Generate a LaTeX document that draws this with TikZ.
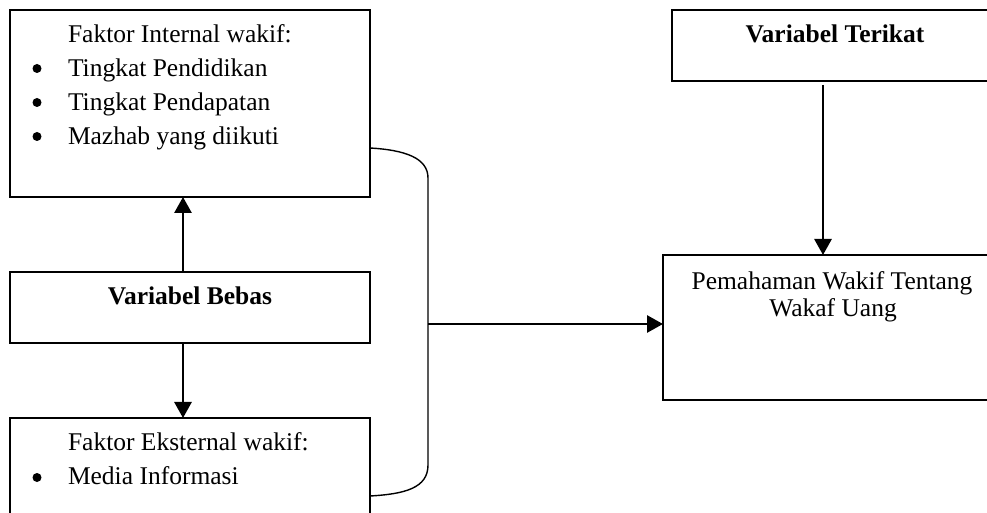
\documentclass[tikz,border=0pt]{standalone}
\usepackage{fontspec}
\setmainfont{Liberation Serif}
\usetikzlibrary{arrows.meta}
\begin{document}
\begin{tikzpicture}[x=1bp,y=-1bp,
  box/.style={draw=black,line width=1.8bp,inner sep=0pt,outer sep=0pt},
  txt/.style={inner sep=0pt,outer sep=0pt,font=\fontsize{25.5bp}{30bp}\selectfont},
  btxt/.style={inner sep=0pt,outer sep=0pt,font=\fontsize{25.5bp}{30bp}\selectfont\bfseries},
  dot/.style={circle,fill=black,inner sep=0pt,minimum size=9bp},
  arr/.style={line width=2.8bp,-{Triangle[length=16bp,width=17bp]}},
  bracest/.style={line width=1.4bp}]
\useasboundingbox (0,0) rectangle (987,513);
\fill[white] (0,0) rectangle (987,513);
\clip (0,0) rectangle (987,513);

% boxes
\node[box,minimum width=360bp,minimum height=187bp] (internal) at (190,103.5) {};
\node[box,minimum width=360bp,minimum height=71bp] (bebas) at (190,307.5) {};
\node[box,minimum width=360bp,minimum height=142bp] (eksternal) at (190,489) {};
\node[box,minimum width=328bp,minimum height=71bp] (terikat) at (836,45.5) {};
\node[box,minimum width=342bp,minimum height=145bp] (pemahaman) at (834,327.5) {};

% texts
\node[txt,anchor=base west] (tInt) at (68,43) {Faktor Internal wakif:};
\node[dot] (b1) at (37,68.5) {};
\node[txt,anchor=base west] (i1) at (68,77) {Tingkat Pendidikan};
\node[dot] (b2) at (37,102.5) {};
\node[txt,anchor=base west] (i2) at (68,111) {Tingkat Pendapatan};
\node[dot] (b3) at (37,136.5) {};
\node[txt,anchor=base west] (i3) at (68,145) {Mazhab yang diikuti};

\node[btxt,anchor=base] (tBebas) at (190,305) {Variabel Bebas};

\node[txt,anchor=base west] (tEks) at (68,450) {Faktor Eksternal wakif:};
\node[dot] (b4) at (37,477.5) {};
\node[txt,anchor=base west] (i4) at (68,484) {Media Informasi};

\node[btxt,anchor=base] (tTerikat) at (835,43) {Variabel Terikat};
\node[txt,anchor=base] (tPem1) at (832,290) {Pemahaman Wakif Tentang};
\node[txt,anchor=base] (tPem2) at (833,317) {Wakaf Uang};

% arrows
\draw[arr] ([xshift=-7bp]bebas.north) -- ([xshift=-7bp]internal.south);
\draw[arr] ([xshift=-7bp]bebas.south) -- ([xshift=-7bp]eksternal.north);
\draw[arr,shorten <=4bp] ([xshift=-13bp]terikat.south) -- ([xshift=-13bp]terikat.south |- pemahaman.north);

% brace
\coordinate (bt) at ([yshift=-44.5bp]internal.east);
\coordinate (bb) at ([yshift=-7bp]eksternal.east);
\coordinate (jn) at (428,324);
\draw[bracest] (bt) .. controls (405,150) and (428,158) .. (428,178) -- (428,465) .. controls (428,488) and (405,494) .. (bb);
\draw[arr] (jn) -- (jn -| pemahaman.west);
\end{tikzpicture}
\end{document}
